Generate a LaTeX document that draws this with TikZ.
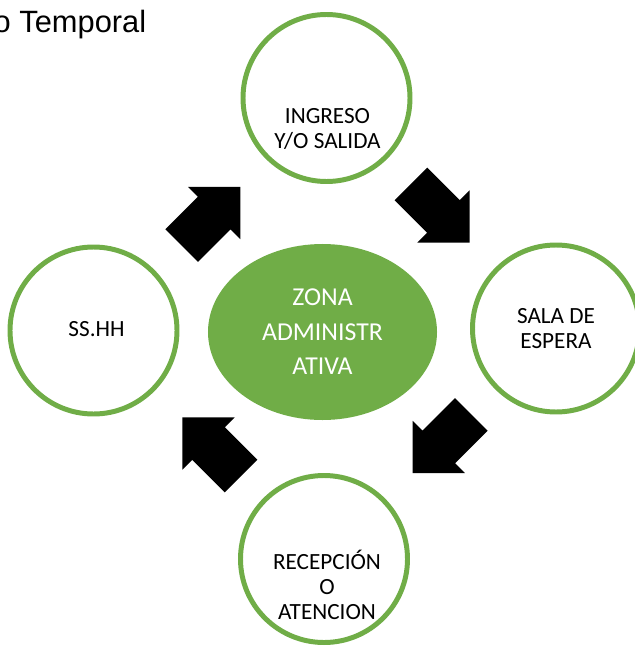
\documentclass[tikz,border=0pt]{standalone}
\usepackage{fontspec}
\setmainfont{Carlito}
\newfontfamily\titlefont{Liberation Sans}
\usepackage{tikz}
\usetikzlibrary{calc}
\usetikzlibrary{shapes.geometric}
\definecolor{zonagreen}{HTML}{70AD47}

\tikzset{
	areacirc/.style={circle, draw=zonagreen, line width=4.25pt, minimum size=5.01cm, inner sep=0pt},
	areatext/.style={align=center, inner sep=0pt, font=\fontsize{19.8pt}{21.3pt}\selectfont},
	flowarrow/.pic={
		\fill (-41.5,-23) -- (4.5,-23) -- (4.5,-37) -- (41.5,0) -- (4.5,37) -- (4.5,23) -- (-41.5,23) -- cycle;
	}
}

\begin{document}
\begin{tikzpicture}[x=0.03cm, y=0.03cm]
\useasboundingbox (0,0) rectangle (634,-646);
% % Title (cut at the left)
 \node[anchor=base west, inner sep=0pt, font=\titlefont\fontsize{26.3pt}{30pt}\selectfont] (titulo) at (-6.5,-33) {o Temporal};
% % Center zone
 \node[ellipse, fill=zonagreen, minimum width=6.87cm, minimum height=5.28cm, inner sep=0pt,
   text=white, align=center, font=\fontsize{22pt}{29.5pt}\selectfont] (zona) at (322.5,-332) {ZONA\\ADMINISTR\\ATIVA};
% % Circles round it
 \node[areacirc] (ingreso) at (326.5,-98) {};
 \node[areacirc] (sala) at (556,-328.5) {};
 \node[areacirc] (recepcion) at (324,-559) {};
 \node[areacirc] (sshh) at (93.5,-330.5) {};
 % texts sit low in the top and bottom circles
 \node[areatext] (ingresotxt) at ($(ingreso)+(1,-31)$) {INGRESO\\Y/O SALIDA};
 \node[areatext] (salatxt) at ($(sala)+(0,0)$) {SALA DE\\ESPERA};
 \node[areatext] (recepciontxt) at ($(recepcion)+(3,-26)$) {RECEPCIÓN\\O\\ATENCION};
 \node[areatext] (sshhtxt) at ($(sshh)+(3,1)$) {SS.HH};
% % Block arrows between the circles
 \pic[rotate=45] at ($(sshh)!0.5!(ingreso)+(1,-2)$) {flowarrow};
 \pic[rotate=-45] at ($(ingreso)!0.5!(sala)+(-1,0)$) {flowarrow};
 \pic[rotate=-135] at ($(sala)!0.5!(recepcion)+(2,0)$) {flowarrow};
 \pic[rotate=135] at ($(recepcion)!0.5!(sshh)+(3,-2)$) {flowarrow};
\end{tikzpicture}
\end{document}
